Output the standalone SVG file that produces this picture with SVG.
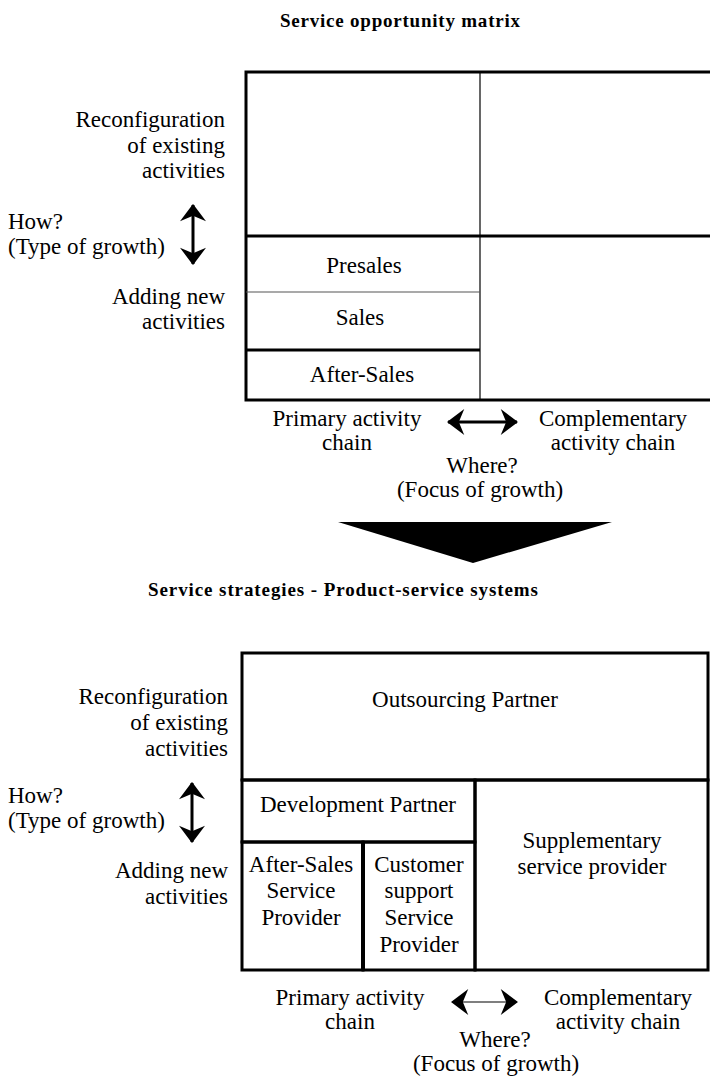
<svg xmlns="http://www.w3.org/2000/svg" width="710" height="1080" viewBox="0 0 710 1080">
  <style>
    text { font-family: "Liberation Serif", "Times New Roman", serif; font-size: 23px; fill: #000; }
    .title { font-weight: bold; font-size: 19px; }
    .mid { text-anchor: middle; }
    .end { text-anchor: end; }
    .thick { stroke: #000; stroke-width: 3; fill: none; }
    .thin { stroke: #000; stroke-width: 1.2; fill: none; }
    .hair { stroke: #555; stroke-width: 1.2; fill: none; }
    .shaft { stroke: #000; stroke-width: 3; fill: none; }
    .shaft-thin { stroke: #000; stroke-width: 1.2; fill: none; }
  </style>
  <defs>
    <marker id="head" markerUnits="userSpaceOnUse" markerWidth="18" markerHeight="26" viewBox="0 0 16 24" refX="15" refY="12" orient="auto-start-reverse">
      <path d="M0,0 L16,12 L0,24 L5,12 Z" fill="#000"/>
    </marker>
  </defs>
  <rect width="710" height="1080" fill="#fff"/>

  <!-- Upper panel: service opportunity matrix -->
  <text id="title-matrix" class="title mid" x="400" y="27" textLength="240" lengthAdjust="spacing">Service opportunity matrix</text>

  <g id="matrix-frame">
    <path class="thick" d="M710,72 H246 V400 H710"/>
    <line class="thick" x1="246" y1="236" x2="710" y2="236"/>
    <line class="thin" x1="480" y1="72" x2="480" y2="400"/>
  </g>
  <g id="cell-presales">
    <text class="mid" x="364" y="273">Presales</text>
  </g>
  <g id="cell-sales">
    <line class="hair" x1="246" y1="292" x2="480" y2="292"/>
    <text class="mid" x="360" y="325">Sales</text>
  </g>
  <g id="cell-aftersales">
    <line class="thick" x1="246" y1="350" x2="480" y2="350"/>
    <text class="mid" x="362" y="382">After-Sales</text>
  </g>

  <g id="axis-type-top">
    <text class="end" x="225" y="127">Reconfiguration</text>
    <text class="end" x="225" y="153">of existing</text>
    <text class="end" x="225" y="178">activities</text>
    <text x="8" y="229">How?</text>
    <text x="8" y="254">(Type of growth)</text>
    <text class="end" x="225" y="304">Adding new</text>
    <text class="end" x="225" y="329">activities</text>
  </g>
  <g id="axis-focus-top">
    <text class="mid" x="347" y="426">Primary activity</text>
    <text class="mid" x="347" y="450">chain</text>
    <text class="mid" x="613" y="426">Complementary</text>
    <text class="mid" x="613" y="450">activity chain</text>
    <text class="mid" x="482" y="473">Where?</text>
    <text class="mid" x="480" y="497">(Focus of growth)</text>
  </g>

  <!-- Transition arrow between the panels -->
  <g id="transition">
    <polygon points="338,522 612,522 473,563" fill="#000"/>
  </g>

  <!-- Lower panel: service strategies -->
  <text id="title-strategies" class="title mid" x="343" y="596" textLength="390" lengthAdjust="spacing">Service strategies - Product-service systems</text>

  <g id="box-outsourcing">
    <rect class="thick" x="242" y="653" width="466" height="127"/>
    <text class="mid" x="465" y="707">Outsourcing Partner</text>
  </g>
  <g id="box-development">
    <rect class="thick" x="242" y="780" width="233" height="62"/>
    <text class="mid" x="358" y="812">Development Partner</text>
  </g>
  <g id="box-aftersales-provider">
    <rect class="thick" x="242" y="842" width="121" height="128"/>
    <text class="mid" x="301" y="872">After-Sales</text>
    <text class="mid" x="301" y="898">Service</text>
    <text class="mid" x="301" y="925">Provider</text>
  </g>
  <g id="box-customer-support">
    <rect class="thick" x="363" y="842" width="112" height="128"/>
    <line stroke="#000" stroke-width="4" x1="363" y1="842" x2="363" y2="970"/>
    <text class="mid" x="419" y="872">Customer</text>
    <text class="mid" x="419" y="898">support</text>
    <text class="mid" x="419" y="925">Service</text>
    <text class="mid" x="419" y="952">Provider</text>
  </g>
  <g id="box-supplementary">
    <rect class="thick" x="475" y="780" width="233" height="190"/>
    <text class="mid" x="592" y="848">Supplementary</text>
    <text class="mid" x="592" y="874">service provider</text>
  </g>

  <g id="axis-type-bottom">
    <text class="end" x="228" y="704">Reconfiguration</text>
    <text class="end" x="228" y="730">of existing</text>
    <text class="end" x="228" y="756">activities</text>
    <text x="8" y="803">How?</text>
    <text x="8" y="828">(Type of growth)</text>
    <text class="end" x="228" y="878">Adding new</text>
    <text class="end" x="228" y="904">activities</text>
  </g>
  <g id="axis-focus-bottom">
    <text class="mid" x="350" y="1005">Primary activity</text>
    <text class="mid" x="350" y="1029">chain</text>
    <text class="mid" x="618" y="1005">Complementary</text>
    <text class="mid" x="618" y="1029">activity chain</text>
    <text class="mid" x="495" y="1047">Where?</text>
    <text class="mid" x="496" y="1071">(Focus of growth)</text>
  </g>

  <!-- Double-headed axis arrows -->
  <g id="connectors">
    <line class="shaft" x1="193" y1="205" x2="193" y2="264" marker-start="url(#head)" marker-end="url(#head)"/>
    <line class="shaft" x1="448" y1="422" x2="517" y2="422" marker-start="url(#head)" marker-end="url(#head)"/>
    <line class="shaft" x1="192" y1="783" x2="192" y2="842" marker-start="url(#head)" marker-end="url(#head)"/>
    <line class="shaft-thin" x1="452" y1="1002" x2="517" y2="1002" marker-start="url(#head)" marker-end="url(#head)"/>
  </g>
</svg>
